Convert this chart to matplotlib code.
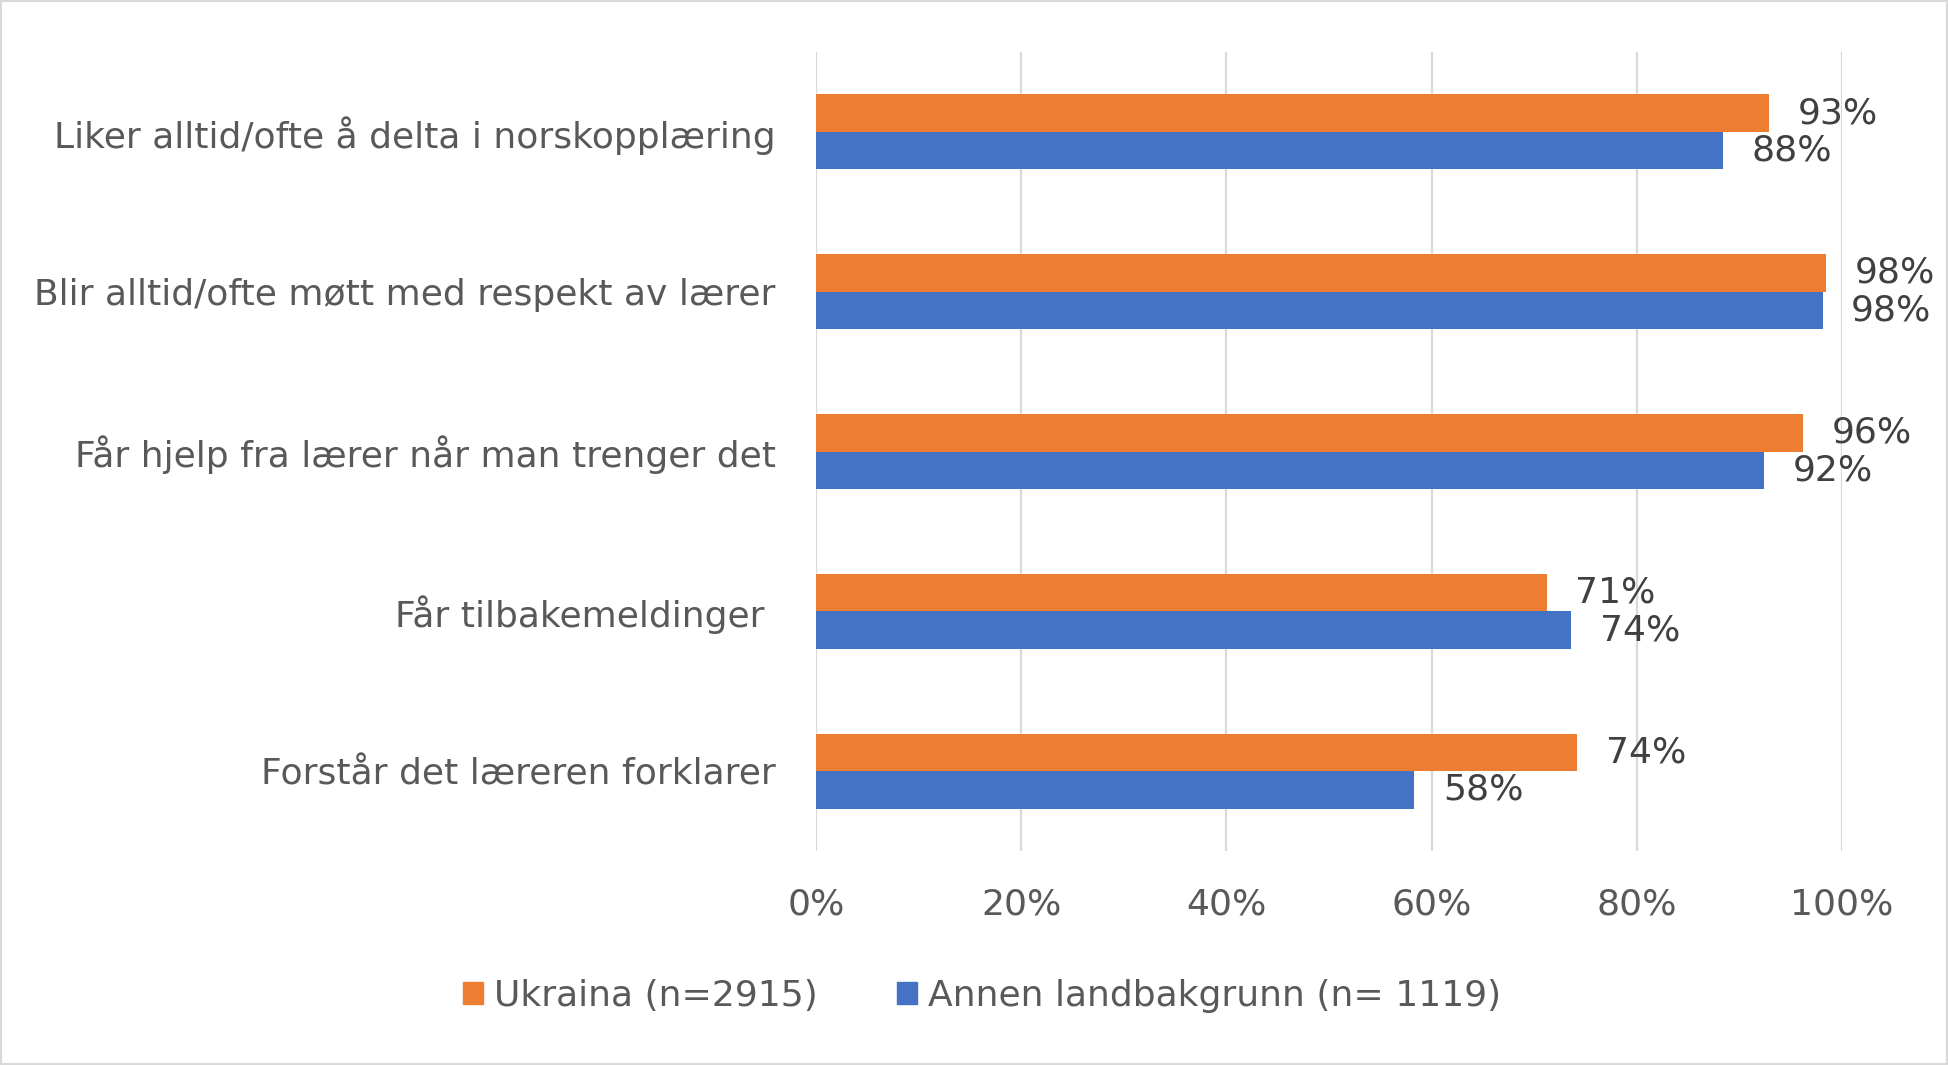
import matplotlib
matplotlib.use('Agg')
import matplotlib.pyplot as plt
from matplotlib.patches import Patch, Rectangle
import numpy as np

# data
categories = ['Liker alltid/ofte å delta i norskopplæring',
              'Blir alltid/ofte møtt med respekt av lærer',
              'Får hjelp fra lærer når man trenger det',
              'Får tilbakemeldinger ',
              'Forstår det læreren forklarer']
ukraina = [92.9, 98.4, 96.2, 71.2, 74.2]
annen = [88.4, 98.1, 92.4, 73.6, 58.3]
ukraina_labels = ['93%', '98%', '96%', '71%', '74%']
annen_labels = ['88%', '98%', '92%', '74%', '58%']
xticks = [0, 20, 40, 60, 80, 100]
xtick_labels = ['0%', '20%', '40%', '60%', '80%', '100%']
series_names = ['Ukraina (n=2915)', 'Annen landbakgrunn (n= 1119)']

orange = '#ED7D31'
blue = '#4472C4'
txt = '#595959'
grid = '#D9D9D9'

plt.rcParams['font.family'] = ['DejaVu Sans']
fs = 26

fig = plt.figure(figsize=(19.48, 10.65), dpi=100)
ax = fig.add_axes([816 / 1948, 214 / 1065, 1026 / 1948, 799 / 1065])

y = np.arange(len(categories))
h = 0.235
ax.barh(y - h / 2, ukraina, height=h, color=orange, zorder=3)
ax.barh(y + h / 2, annen, height=h, color=blue, zorder=3)

for i in range(len(categories)):
    ax.text(ukraina[i] + 2.8, y[i] - h / 2, ukraina_labels[i], va='center', ha='left',
            fontsize=fs, color='#404040')
    ax.text(annen[i] + 2.8, y[i] + h / 2, annen_labels[i], va='center', ha='left',
            fontsize=fs, color='#404040')

ax.set_xlim(0, 100)
ax.set_ylim(len(categories) - 0.5, -0.5)
ax.set_xticks(xticks)
ax.set_xticklabels(xtick_labels, fontsize=fs, color=txt)
ax.set_yticks(y)
ax.set_yticklabels(categories, fontsize=fs, color=txt)
ax.tick_params(axis='x', length=0, pad=26)
ax.tick_params(axis='y', length=0, pad=29)
ax.grid(axis='x', color=grid, linewidth=1.6, zorder=0)
for s in ax.spines.values():
    s.set_visible(False)

handles = [Patch(color=orange), Patch(color=blue)]
fig.legend(handles, series_names, loc='center', bbox_to_anchor=(0.504, 0.065), ncol=2,
           frameon=False, fontsize=fs, labelcolor=txt, handlelength=0.55, handleheight=0.55,
           handletextpad=0.3, columnspacing=2.2)

fig.patches.append(Rectangle((0, 0), 1, 1, transform=fig.transFigure, fill=False,
                             edgecolor=grid, linewidth=3))

fig.savefig('out.png', dpi=100)
